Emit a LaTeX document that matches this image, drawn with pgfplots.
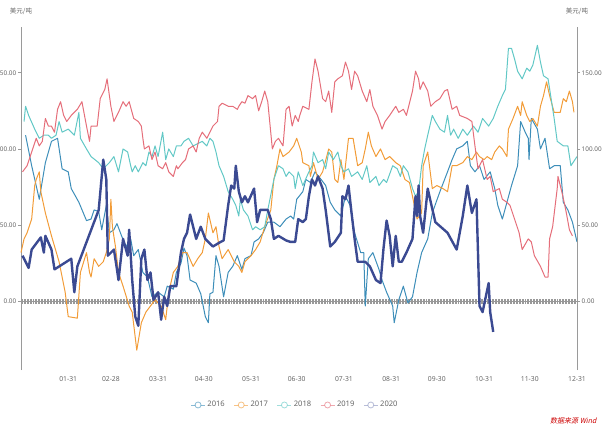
\documentclass[border=0pt]{standalone}
\usepackage{pgfplots}
\pgfplotsset{compat=1.18}
\usepackage{fontspec}
\setmainfont{Noto Sans}
\newfontfamily\cjk{Noto Sans CJK SC}
\newfontfamily\cjkit{Noto Sans CJK SC}[FakeSlant=0.2]
\definecolor{cA}{HTML}{3D8EB9}
\definecolor{cB}{HTML}{F29C38}
\definecolor{cC}{HTML}{62C8C6}
\definecolor{cD}{HTML}{E56E7A}
\definecolor{cE}{HTML}{3B4A92}
\definecolor{axgray}{HTML}{9A9A9A}
\definecolor{txgray}{HTML}{666666}
\begin{document}
\begin{tikzpicture}[x=1pt,y=1pt]
\pgfplotsset{
  base/.style={
    at={(21pt,64pt)}, anchor=south west,
    width=556pt, height=343pt, scale only axis,
    xmin=0, xmax=365, ymin=-45, ymax=180,
    ytick={0,50,100,150},
    yticklabel style={font=\fontsize{6.4}{7}\selectfont, text=txgray, inner sep=1.5pt,
      /pgf/number format/.cd, fixed, fixed zerofill, precision=2, assume math mode=true},
    tick align=outside, major tick length=3pt,
    y axis line style={axgray, line width=0.8pt},
    every y tick/.style={axgray, line width=0.6pt},
    clip=false,
  }
}
\begin{axis}[base,
  axis y line*=left, axis x line*=bottom,
  x axis line style={draw=none},
  xtick={31,59,90,120,151,181,212,243,273,304,334,365},
  xticklabels={01-31,02-28,03-31,04-30,05-31,06-30,07-31,08-31,09-30,10-31,11-30,12-31},
  xticklabel style={font=\fontsize{6.8}{8}\selectfont, text=txgray},
  major x tick style={draw=none},
  legend style={at={(axis description cs:0.493,-0.102)}, anchor=center, draw=none,
    font=\fontsize{7.6}{9}\selectfont, text=txgray, legend columns=5,
    /tikz/every even column/.append style={column sep=7pt}},
  legend image code/.code={
    \draw[#1, line width=0.8pt, draw opacity=0.6] (0pt,0pt) -- (14pt,0pt);
    \draw[#1, line width=0.8pt, draw opacity=0.6, fill=white] (7pt,0pt) circle (3pt);},
  every axis plot/.append style={no markers, line join=round},
]
\draw[gray!80, line width=0.6pt] (axis cs:0,0) -- (axis cs:365,0);
\pgfplotsinvokeforeach{0,...,365}{\draw[gray!80, line width=0.4pt] (axis cs:#1,-1.6) -- (axis cs:#1,1.6);}

\addplot[cA, line width=1pt] coordinates {
(3,109)(7,89)(12,67)(16,91)(20,105)(24,107)(27,87)(31,85)(33,74)(38,65)(43,53)(46,54)(48,60)(51,59)(53,47)(56,63)(58,45)(61,47)(63,51)(66,43)(69,36)(72,41)(74,30)(77,34)(80,19)(83,16)(86,3)(90,6)(94,3)(96,10)(100,8)(102,19)(105,25)(107,35)(109,30)(111,14)(115,12)(118,5)(121,-10)(123,-14)(124,5)(126,6)(128,30)(130,23)(133,3)(136,19)(139,23)(142,30)(145,21)(147,28)(151,30)(153,39)(156,41)(159,45)(162,52)(166,52)(170,49)(174,54)(177,56)(179,54)(181,67)(185,72)(187,80)(190,78)(193,85)(197,80)(200,76)(203,65)(206,60)(210,56)(213,69)(216,63)(219,45)(223,32)(225,32)(226,-3)(228,28)(231,32)(235,21)(237,14)(240,6)(244,-3)(245,-14)(248,1)(251,10)(254,-1)(257,3)(260,19)(263,32)(267,41)(270,58)(275,72)(280,85)(283,93)(286,100)(290,102)(293,105)(295,89)(298,85)(301,89)(304,80)(308,85)(311,74)(313,63)(316,54)(319,65)(322,76)(326,89)(328,118)(331,111)(333,107)(333.5,93)(335,120)(339,113)(341,100)(344,107)(347,87)(350,89)(354,89)(356,65)(359,60)(362,52)(365,39)
};
\addlegendentry{2016}
\addplot[cB, line width=1pt] coordinates {
(0,32)(2,41)(4,45)(7,54)(9,76)(10,80)(12,85)(13,72)(16,58)(20,43)(25,26)(29,6)(31,-10)(37,-11)(39,19)(43,32)(45,19)(46,16)(48,28)(51,23)(54,26)(56,32)(58,41)(59,67)(60,49)(62,36)(64,19)(67,10)(71,-3)(73,-7)(76,-32)(79,-14)(82,-7)(85,-3)(88,1)(92,-3)(95,-12)(97,6)(100,19)(103,23)(106,32)(109,32)(113,23)(116,28)(119,32)(121,41)(123,58)(126,45)(128,49)(130,36)(132,28)(136,34)(138,30)(140,26)(143,23)(145,19)(147,26)(151,30)(154,34)(157,39)(160,49)(164,60)(166,80)(168,89)(170,100)(172,95)(176,98)(179,102)(181,107)(184,98)(185,91)(189,89)(190,82)(192,91)(195,80)(198,85)(202,100)(204,98)(206,80)(208,78)(210,93)(212,80)(215,107)(218,107)(221,89)(224,91)(226,100)(228,111)(230,102)(233,95)(236,100)(239,93)(242,95)(246,91)(249,89)(252,80)(255,78)(257,69)(260,54)(263,58)(264,89)(267,98)(270,74)(273,76)(277,74)(280,72)(283,89)(286,89)(290,91)(293,95)(296,93)(299,98)(301,95)(304,93)(306,95)(309,93)(311,98)(314,102)(316,100)(319,95)(320,113)(323,120)(326,128)(328,122)(329,131)(332,122)(334,118)(336,120)(339,115)(341,128)(343,135)(345,144)(347,135)(350,124)(354,124)(356,133)(358,131)(360,138)(362,131)(363,124)
};
\addlegendentry{2017}
\addplot[cC, line width=1pt] coordinates {
(2,118)(3,128)(5,122)(9,113)(12,107)(15,109)(18,109)(20,107)(23,109)(25,118)(27,111)(31,113)(35,109)(38,124)(39,107)(43,100)(46,95)(51,91)(54,87)(58,91)(61,95)(64,85)(67,100)(70,98)(72,89)(73,85)(75,89)(77,85)(80,91)(82,89)(84,98)(86,95)(88,102)(90,95)(93,111)(95,93)(97,100)(100,95)(102,102)(105,102)(107,105)(110,107)(113,102)(119,105)(122,102)(124,107)(126,105)(128,98)(130,89)(133,82)(136,72)(139,67)(141,63)(143,56)(144,67)(146,60)(149,56)(152,47)(154,49)(157,47)(160,49)(162,60)(166,80)(169,89)(172,87)(174,82)(176,85)(179,82)(180,74)(182,85)(185,76)(189,85)(191,89)(192,98)(195,91)(198,93)(200,87)(202,98)(205,93)(208,98)(210,89)(212,85)(215,87)(217,82)(221,85)(224,80)(227,89)(229,78)(233,82)(235,76)(238,80)(240,78)(244,89)(247,87)(249,82)(251,89)(254,85)(257,74)(259,69)(261,72)(263,89)(265,100)(267,109)(270,122)(272,118)(275,113)(278,111)(280,122)(282,109)(284,113)(287,107)(290,113)(293,109)(297,115)(300,111)(303,120)(307,115)(310,120)(313,128)(316,135)(318,139)(320,166)(322,166)(324,159)(326,151)(329,146)(332,153)(334,151)(336,155)(339,168)(341,157)(343,148)(346,146)(348,133)(350,120)(352,105)(356,102)(359,102)(361,89)(365,95)
};
\addlegendentry{2018}
\addplot[cD, line width=1pt] coordinates {
(1,85)(4,89)(7,98)(10,107)(12,102)(14,105)(16,120)(18,115)(20,115)(22,111)(24,126)(26,131)(28,122)(30,118)(33,122)(37,126)(40,131)(43,115)(45,105)(46,115)(50,115)(52,133)(55,139)(56.5,146)(59,128)(61,118)(64,124)(67,131)(69,128)(71,131)(74,120)(77,118)(79,115)(80,107)(81,100)(84,102)(86,93)(88,98)(90,89)(93,87)(95,91)(97,85)(100,82)(102,89)(103,87)(106,91)(108,93)(110,100)(113,102)(115,98)(117,107)(119,111)(122,107)(124,111)(126,115)(129,118)(130,128)(132,130)(136,128)(139,128)(142,126)(143,128)(145,131)(147,130)(149,135)(152,133)(154,135)(156,125)(158,131)(160,138)(162,131)(165,100)(167,105)(169,107)(172,102)(174,126)(176,128)(178,115)(180,122)(182,118)(183,122)(185,128)(189,126)(191,144)(193,159)(195,151)(198,133)(200,131)(202,138)(204,124)(206,144)(208,146)(211,148)(213,157)(215,151)(217,139)(219,151)(221,148)(224,138)(227,131)(229,139)(231,128)(234,122)(237,113)(239,118)(242,122)(246,128)(248,124)(251,126)(253,122)(257,138)(259,151)(261,146)(262,139)(264,144)(267,138)(269,128)(272,131)(275,133)(278,138)(280,139)(283,126)(286,128)(288,122)(293,120)(296,118)(298,102)(300,87)(303,93)(306,80)(308,82)(310,72)(314,74)(316,67)(319,65)(321,63)(324,54)(327,45)(329,34)(333,41)(335,39)(337,30)(341,23)(344,16)(346,16)(347,41)(349,49)(352,74)(352.5,82)(355,72)(357,63)(358,58)(360,47)(362,43)
};
\addlegendentry{2019}
\addplot[cE, line width=2.4pt, forget plot] coordinates {
(1,30)(5,22)(7,34)(13,42)(15,32)(16,43)(20,34)(22,21)(33,28)(35,6)(37,23)(51,60)(54,93)(56,80)(57,30)(61,34)(63,21)(64,14)(67,41)(70,30)(71,47)(73,14)(75,-10)(77,-16)(79,28)(81,34)(83,14)(85,19)(87,1)(90,6)(92,-12)(94,3)(96,-3)(98,10)(102,10)(105,32)(107,41)(109,45)(111,57)(115,41)(118,49)(121,41)(126,36)(131,39)(133,40)(136,63)(138,76)(140,74)(141,89)(143,72)(145,65)(147,69)(149,65)(153,74)(155,52)(157,60)(162,60)(164,54)(166,41)(169,43)(174,40)(177,39)(180,39)(182,54)(185,52)(187,54)(189,69)(191,80)(193,76)(195,82)(198,74)(200,60)(203,36)(206,39)(210,45)(211,69)(213,67)(215,76)(217,58)(219,41)(221,26)(226,26)(229,23)(233,14)(236,12)(238,35)(240,53)(242,43)(244,23)(246,43)(248,26)(250,26)(253,32)(257,41)(259,69)(260,56)(261,76)(262,56)(264,45)(267,74)(269,65)(272,52)(280,45)(286,34)(290,56)(293,76)(296,58)(299,67)(301,-3)(303,-7)(307,12)(308,-7)(310,-20)
};
\addlegendimage{draw=cE!60!white, line width=0.8pt}
\addlegendentry{2020}
\node[anchor=south, yshift=9pt, font=\cjk\fontsize{6.5}{7}\selectfont, text=txgray] at (axis description cs:0,1) {美元/吨};
\node[anchor=south, yshift=9pt, font=\cjk\fontsize{6.5}{7}\selectfont, text=txgray] at (axis description cs:1,1) {美元/吨};
\end{axis}
\begin{axis}[base,
  axis y line*=right, axis x line=none,
]
\end{axis}
\node[anchor=east, font=\cjkit\fontsize{7}{8}\selectfont, text=red!80!black] at (600,13) {数据来源 Wind};
\pgfresetboundingbox
\useasboundingbox (0,0) rectangle (602,434);
\end{tikzpicture}
\end{document}
